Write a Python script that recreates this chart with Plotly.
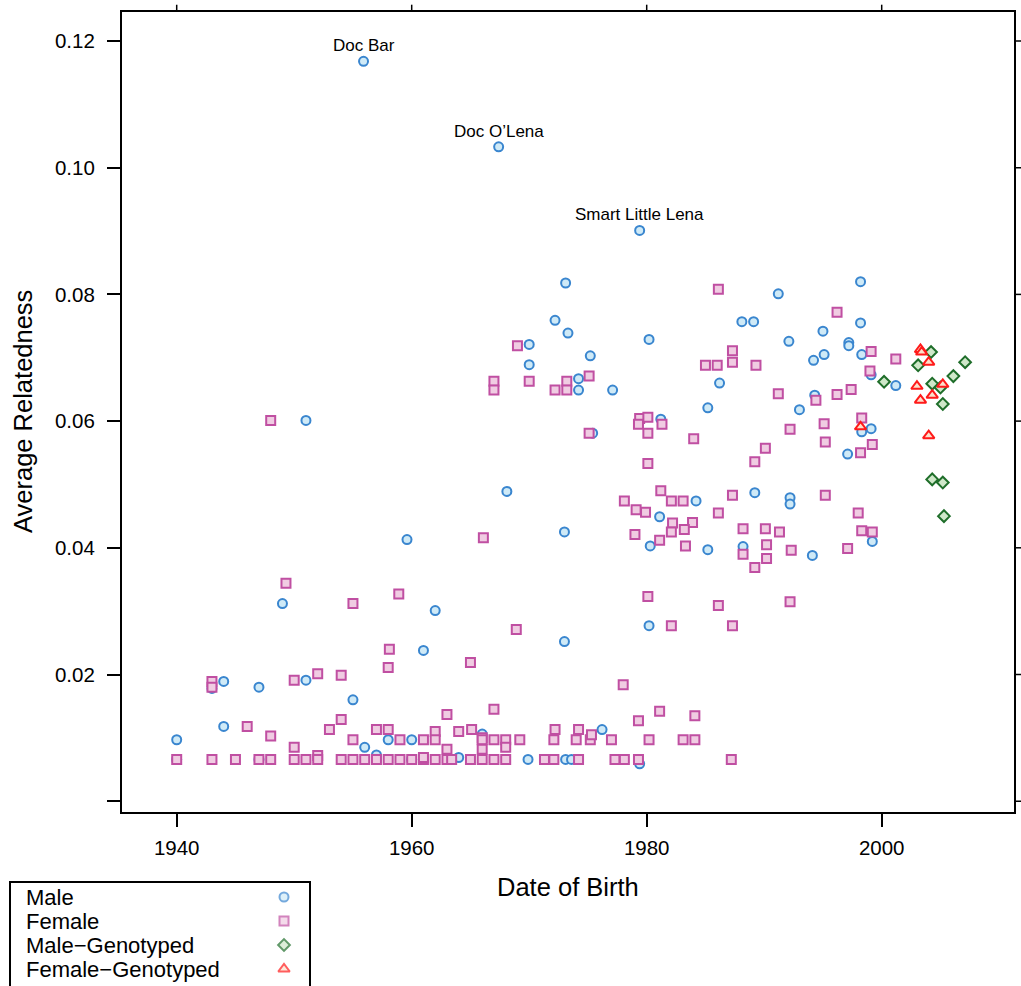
import plotly.graph_objects as go

# ---------------- data ----------------
male_year = [1940.0, 1943.0, 1944.0, 1947.0, 1951.0, 1955.0, 1961.0, 1944.0, 1956.0, 1957.0,
             1958.0, 1960.0, 1951.0, 1959.6, 1949.0, 1962.0, 1966.0, 1964.0, 1976.2, 1969.9,
             1973.1, 1973.6, 1979.4, 1947.0, 1957.0, 1940.0, 1960.0, 1973.1, 1972.2, 1973.3,
             1970.0, 1980.2, 1975.2, 1970.0, 1974.2, 1974.2, 1977.1, 1986.2, 1985.2, 1981.2,
             1975.4, 1968.1, 1984.2, 1981.1, 1980.3, 1985.2, 1973.0, 1980.2, 1973.0, 1955.9,
             1967.4, 1979.4, 1998.2, 1991.2, 1988.1, 1989.1, 1998.2, 1995.0, 1992.1, 1997.2,
             1997.2, 1995.1, 1998.3, 1994.2, 1999.1, 2001.2, 1994.3, 1993.0, 1998.3, 1999.1,
             1997.1, 1989.2, 1992.2, 1992.2, 1999.2, 1988.2, 1994.1]
male_val = [0.0097, 0.0178, 0.0189, 0.0180, 0.0191, 0.0160, 0.0238, 0.0118, 0.0085, 0.0073,
            0.0097, 0.0097, 0.0601, 0.0413, 0.0312, 0.0301, 0.0106, 0.0069, 0.0113, 0.0066,
            0.0066, 0.0066, 0.0059, 0.0066, 0.0066, 0.0066, 0.0066, 0.0818, 0.0759, 0.0739,
            0.0721, 0.0729, 0.0703, 0.0689, 0.0667, 0.0649, 0.0649, 0.0660, 0.0621, 0.0603,
            0.0581, 0.0489, 0.0474, 0.0449, 0.0403, 0.0397, 0.0425, 0.0277, 0.0252, 0.1168,
            0.1033, 0.0901, 0.0820, 0.0801, 0.0757, 0.0757, 0.0755, 0.0742, 0.0726, 0.0724,
            0.0719, 0.0705, 0.0705, 0.0696, 0.0673, 0.0656, 0.0641, 0.0618, 0.0583, 0.0588,
            0.0548, 0.0487, 0.0479, 0.0469, 0.0410, 0.0402, 0.0388]

female_year = [1940.0, 1943.0, 1943.0, 1950.0, 1952.0, 1954.0, 1958.1, 1958.0, 1946.0, 1948.0,
               1950.0, 1952.0, 1953.0, 1954.0, 1955.0, 1957.0, 1958.0, 1959.0, 1961.0,
               1943.0, 1945.0, 1947.0, 1948.0, 1950.0, 1951.0, 1952.0, 1954.0, 1955.0, 1956.0,
               1957.0, 1958.0, 1959.0, 1960.0, 1961.0, 1962.0, 1963.0, 1963.4, 1965.0, 1966.0,
               1967.0, 1968.0, 1971.3, 1972.1, 1974.2, 1977.3, 1978.1, 1979.3, 1987.2,
               1965.0, 1978.0, 1963.0, 1967.0, 1981.1, 1979.3, 1984.1, 1962.0, 1962.0, 1964.0,
               1965.1, 1966.0, 1966.0, 1966.0, 1967.0, 1968.0, 1968.0, 1969.2, 1972.1, 1972.2,
               1974.0, 1974.2, 1975.2, 1975.3, 1977.0, 1980.2, 1983.1, 1984.1, 1961.0, 1963.0,
               1948.0, 1949.3, 1955.0, 1958.9, 1969.0, 1967.0, 1967.0, 1970.0, 1973.2, 1972.2,
               1973.2, 1975.1, 1986.1, 1985.0, 1986.0, 1979.4, 1980.1, 1979.3, 1981.3, 1980.1,
               1975.1, 1984.0, 1980.1, 1981.2, 1978.1, 1982.1, 1983.1, 1979.1, 1979.9, 1982.2,
               1983.9, 1982.1, 1983.2, 1979.0, 1981.1, 1983.3, 1986.1, 1966.1, 1980.1, 1986.1,
               1982.1, 1968.9, 1996.2, 1999.1, 2001.2, 1987.3, 1987.3, 1989.3, 1999.0, 1991.2,
               1994.4, 1996.2, 1997.4, 1998.3, 1995.1, 1992.2, 1995.2, 1999.2, 1990.1, 1998.2,
               1989.2, 1987.3, 1995.2, 1998.0, 1988.2, 1990.1, 1991.3, 1998.3, 1999.2, 1988.2,
               1990.2, 1990.2, 1992.3, 1997.1, 1989.2, 1992.2, 1987.3]
female_val = [0.0066, 0.0189, 0.0180, 0.0191, 0.0201, 0.0199, 0.0240, 0.0211, 0.0118, 0.0103,
              0.0085, 0.0072, 0.0113, 0.0129, 0.0097, 0.0113, 0.0113, 0.0097, 0.0097,
              0.0066, 0.0066, 0.0066, 0.0066, 0.0066, 0.0066, 0.0066, 0.0066, 0.0066, 0.0066,
              0.0066, 0.0066, 0.0066, 0.0066, 0.0066, 0.0066, 0.0066, 0.0066, 0.0066, 0.0066,
              0.0066, 0.0066, 0.0066, 0.0066, 0.0066, 0.0066, 0.0066, 0.0066, 0.0066,
              0.0219, 0.0184, 0.0137, 0.0145, 0.0142, 0.0127, 0.0135, 0.0110, 0.0097, 0.0110,
              0.0113, 0.0100, 0.0097, 0.0082, 0.0097, 0.0097, 0.0085, 0.0097, 0.0097, 0.0113,
              0.0097, 0.0113, 0.0097, 0.0105, 0.0097, 0.0097, 0.0097, 0.0097, 0.0069, 0.0082,
              0.0601, 0.0344, 0.0312, 0.0327, 0.0719, 0.0663, 0.0649, 0.0663, 0.0663, 0.0649,
              0.0649, 0.0671, 0.0808, 0.0688, 0.0688, 0.0604, 0.0606, 0.0595, 0.0595, 0.0581,
              0.0581, 0.0572, 0.0533, 0.0490, 0.0474, 0.0474, 0.0474, 0.0460, 0.0456, 0.0439,
              0.0440, 0.0425, 0.0429, 0.0421, 0.0412, 0.0403, 0.0455, 0.0416, 0.0323, 0.0309,
              0.0277, 0.0271, 0.0772, 0.0710, 0.0698, 0.0711, 0.0693, 0.0688, 0.0679, 0.0643,
              0.0633, 0.0642, 0.0650, 0.0605, 0.0596, 0.0587, 0.0567, 0.0563, 0.0557, 0.0550,
              0.0536, 0.0483, 0.0483, 0.0455, 0.0430, 0.0430, 0.0425, 0.0427, 0.0425, 0.0390,
              0.0405, 0.0383, 0.0396, 0.0399, 0.0369, 0.0315, 0.0277]

male_gen_year = [2000.2, 2004.2, 2003.1, 2007.1, 2006.1, 2004.3, 2005.0, 2005.2, 2004.3, 2005.2, 2005.3]
male_gen_val = [0.0662, 0.0709, 0.0688, 0.0693, 0.0671, 0.0659, 0.0653, 0.0627, 0.0508, 0.0503, 0.0450]

female_gen_year = [1998.2, 2003.3, 2003.4, 2004.0, 2003.0, 2005.2, 2004.3, 2003.3, 2004.0]
female_gen_val = [0.0591, 0.0713, 0.0709, 0.0693, 0.0655, 0.0658, 0.0641, 0.0633, 0.0577]

named_horses = ["Doc Bar", "Doc O\u2019Lena", "Smart Little Lena"]
named_year = [1955.9, 1967.4, 1979.4]
named_val = [0.1168, 0.1033, 0.0901]

group_names = ["Male", "Female", "Male\u2212Genotyped", "Female\u2212Genotyped"]

x_ticks = [1940, 1960, 1980, 2000]
y_ticks = [0.00, 0.02, 0.04, 0.06, 0.08, 0.10, 0.12]
y_ticktext = ["", "0.02", "0.04", "0.06", "0.08", "0.10", "0.12"]

# ---------------- style ----------------
W, H = 1021, 986
FONT = "Liberation Sans, Arial, sans-serif"
px_l, px_r, px_t, px_b = 121.7, 1014.0, 11.7, 812.3
xdom = [px_l / W, px_r / W]
ydom = [1 - px_b / H, 1 - px_t / H]

styles = [
    dict(symbol="circle", size=9, color="#cfeaf7", line=dict(color="#3a86cf", width=2)),
    dict(symbol="square", size=9, color="#f0cce2", line=dict(color="#c04fa2", width=2)),
    dict(symbol="diamond", size=9, color="#cfe8c9", line=dict(color="#1f6e2a", width=2)),
    dict(symbol="triangle-up", size=10, color="#fde0cb", line=dict(color="#ff1a1a", width=2)),
]

fig = go.Figure()
series = [(male_year, male_val), (female_year, female_val),
          (male_gen_year, male_gen_val), (female_gen_year, female_gen_val)]
for (xs, ys), name, st in zip(series, group_names, styles):
    fig.add_trace(go.Scatter(x=xs, y=ys, mode="markers", name=name, marker=st,
                             showlegend=False, xaxis="x", yaxis="y"))

# labelled horses
for n, xv, yv in zip(named_horses, named_year, named_val):
    fig.add_annotation(x=xv, y=yv, xref="x", yref="y", text=n, showarrow=False,
                       xanchor="center", yanchor="bottom", yshift=4,
                       font=dict(family=FONT, size=17, color="black"))

# legend keys on an auxiliary axis
leg_x0, leg_top = 10, 882
fig.add_trace(go.Scatter(
    x=[274, 274, 274, 274], y=[15, 39, 63, 87], mode="markers",
    marker=dict(symbol=[s["symbol"] for s in styles],
                size=[s["size"] for s in styles],
                color=[s["color"] for s in styles],
                line=dict(color=[s["line"]["color"] for s in styles], width=2)),
    xaxis="x2", yaxis="y2", showlegend=False, hoverinfo="skip"))

fig.add_shape(type="rect", xref="paper", yref="paper",
              x0=leg_x0 / W, x1=310 / W, y0=-0.2, y1=1 - leg_top / H,
              line=dict(color="black", width=2), fillcolor="rgba(0,0,0,0)")
for i, name in enumerate(group_names):
    fig.add_annotation(x=25 / W, y=1 - (leg_top + 15 + 24 * i) / H, xref="paper", yref="paper",
                       text=name, showarrow=False, xanchor="left", yanchor="middle",
                       borderpad=0,
                       font=dict(family=FONT, size=22, color="black"))

# axis titles
fig.add_annotation(x=(px_l + px_r) / 2 / W, y=1 - 887 / H, xref="paper", yref="paper",
                   text="Date of Birth", showarrow=False, xanchor="center", yanchor="middle",
                   font=dict(family=FONT, size=25.5, color="black"))
fig.add_annotation(x=23 / W, y=1 - 412 / H, xref="paper", yref="paper",
                   text="Average Relatedness", showarrow=False, textangle=-90,
                   xanchor="center", yanchor="middle",
                   font=dict(family=FONT, size=25.5, color="black"))

# ranges from pixel calibration
x_per_year = 11.75
x_range = [1940 + (px_l - 176.7) / x_per_year, 1940 + (px_r - 176.7) / x_per_year]
y_scale, y_zero = 6335.0, 801.2
y_range = [(y_zero - px_b) / y_scale, (y_zero - px_t) / y_scale]

# short ticks on top / right
for xv in x_ticks:
    fig.add_shape(type="line", xref="x", yref="y domain", x0=xv, x1=xv, y0=1, y1=1 + 7 / 800.6,
                  line=dict(color="black", width=1.5))
for yv in y_ticks:
    fig.add_shape(type="line", xref="x domain", yref="y", x0=1, x1=1 + 7 / 892.3, y0=yv, y1=yv,
                  line=dict(color="black", width=1.5))

fig.update_layout(
    width=W, height=H,
    margin=dict(l=0, r=0, t=0, b=0),
    paper_bgcolor="white", plot_bgcolor="white",
    font=dict(family=FONT, color="black"),
    xaxis=dict(domain=xdom, range=x_range, tickvals=x_ticks, ticks="outside", ticklen=13,
               tickwidth=1.5, tickcolor="black", showline=True, linecolor="black", linewidth=1.5,
               mirror=True, showgrid=False, zeroline=False, anchor="y",
               tickfont=dict(family=FONT, size=20.5, color="black"), ticklabelstandoff=3),
    yaxis=dict(domain=ydom, range=y_range, tickvals=y_ticks, ticktext=y_ticktext,
               ticks="outside", ticklen=13, tickwidth=1.5, tickcolor="black", showline=True,
               linecolor="black", linewidth=1.5, mirror=True, showgrid=False, zeroline=False,
               anchor="x", tickfont=dict(family=FONT, size=20.5, color="black"),
               ticklabelstandoff=8),
    xaxis2=dict(domain=[leg_x0 / W, 310 / W], range=[0, 300], visible=False, anchor="y2",
                fixedrange=True),
    yaxis2=dict(domain=[0, 1 - leg_top / H], range=[H - leg_top, 0], visible=False, anchor="x2",
                fixedrange=True),
)

fig.write_html("out.html")
